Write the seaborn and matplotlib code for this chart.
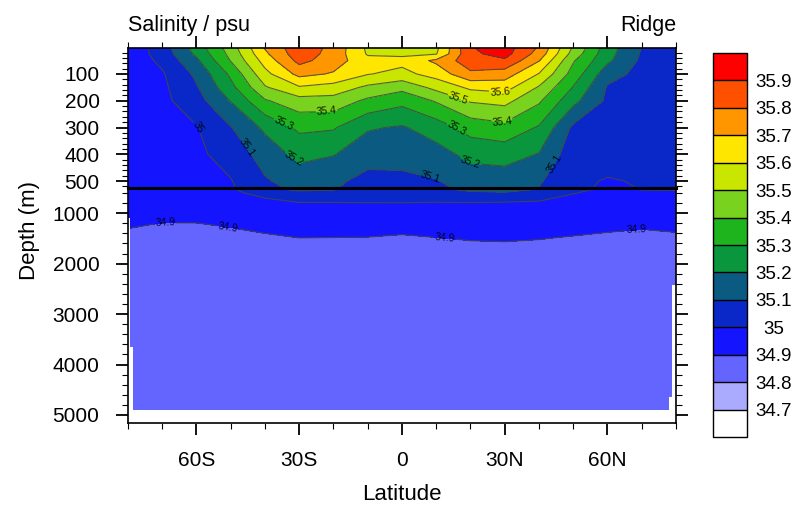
import numpy as np
import matplotlib
matplotlib.use("Agg")
import matplotlib.pyplot as plt
from matplotlib.ticker import FixedLocator, MultipleLocator, FuncFormatter
import seaborn as sns

sns.set_style("ticks")
plt.rcParams["font.family"] = ["Liberation Sans", "DejaVu Sans"]
plt.rcParams.update({"text.color": "black", "axes.labelcolor": "black",
                     "xtick.color": "black", "ytick.color": "black",
                     "axes.edgecolor": "black"})

# ---- section grid: latitude (deg) x depth (m) ----
lats = [-80, -70, -60, -50, -40, -30, -20, -10, 0, 10, 20, 30, 40, 50, 60, 70, 80]
depths = [0, 25, 50, 100, 150, 200, 300, 400, 500, 600, 800, 1000, 1200, 1500, 2000, 5000]

# salinity (psu) along each depth level
s_0 = [34.93, 35.05, 35.25, 35.45, 35.71, 35.87, 35.77, 35.58, 35.56, 35.575, 35.895, 35.95, 35.79, 35.49, 35.25, 35.098, 35.08]
s_25 = [34.935, 35.04, 35.22, 35.43, 35.68, 35.86, 35.76, 35.59, 35.58, 35.595, 35.88, 35.935, 35.76, 35.46, 35.235, 35.09, 35.075]
s_50 = [34.94, 35.02, 35.18, 35.405, 35.64, 35.83, 35.75, 35.63, 35.63, 35.72, 35.86, 35.885, 35.705, 35.41, 35.22, 35.08, 35.07]
s_100 = [34.95, 34.99, 35.12, 35.32, 35.57, 35.73, 35.69, 35.605, 35.57, 35.64, 35.78, 35.75, 35.595, 35.36, 35.14, 35.07, 35.06]
s_150 = [34.955, 34.98, 35.09, 35.27, 35.49, 35.59, 35.56, 35.48, 35.43, 35.53, 35.62, 35.64, 35.49, 35.295, 35.09, 35.06, 35.05]
s_200 = [34.955, 34.975, 35.06, 35.205, 35.39, 35.46, 35.46, 35.38, 35.33, 35.41, 35.51, 35.53, 35.415, 35.23, 35.08, 35.05, 35.04]
s_300 = [34.955, 34.97, 34.995, 35.095, 35.22, 35.32, 35.31, 35.21, 35.19, 35.25, 35.34, 35.37, 35.29, 35.08, 35.07, 35.04, 35.03]
s_400 = [34.95, 34.965, 34.98, 35.04, 35.14, 35.23, 35.205, 35.14, 35.13, 35.16, 35.23, 35.24, 35.195, 35.04, 35.06, 35.03, 35.02]
s_500 = [34.945, 34.96, 34.97, 34.995, 35.09, 35.14, 35.12, 35.07, 35.08, 35.095, 35.14, 35.15, 35.11, 35.03, 34.99, 35.01, 35.01]
s_600 = [34.94, 34.95, 34.96, 34.98, 35.03, 35.07, 35.07, 35.04, 35.05, 35.05, 35.08, 35.09, 35.06, 35.003, 34.975, 34.985, 34.99]
s_800 = [34.93, 34.94, 34.945, 34.96, 34.97, 34.995, 34.995, 34.998, 34.998, 34.995, 34.995, 34.99, 34.985, 34.97, 34.96, 34.955, 34.96]
s_1000 = [34.925, 34.93, 34.93, 34.94, 34.945, 34.955, 34.955, 34.955, 34.955, 34.955, 34.96, 34.96, 34.955, 34.945, 34.94, 34.935, 34.94]
s_1200 = [34.908, 34.899, 34.899, 34.91, 34.92, 34.93, 34.93, 34.93, 34.93, 34.93, 34.935, 34.935, 34.93, 34.925, 34.915, 34.91, 34.915]
s_1500 = [34.885, 34.88, 34.88, 34.875, 34.89, 34.899, 34.898, 34.897, 34.89, 34.898, 34.904, 34.906, 34.902, 34.895, 34.89, 34.885, 34.89]
s_2000 = [34.86, 34.86, 34.86, 34.86, 34.86, 34.86, 34.86, 34.86, 34.86, 34.86, 34.86, 34.86, 34.86, 34.86, 34.86, 34.86, 34.86]
s_5000 = [34.84, 34.84, 34.84, 34.84, 34.84, 34.84, 34.84, 34.84, 34.84, 34.84, 34.84, 34.84, 34.84, 34.84, 34.84, 34.84, 34.84]

salinity = np.array([s_0, s_25, s_50, s_100, s_150, s_200, s_300, s_400, s_500,
                     s_600, s_800, s_1000, s_1200, s_1500, s_2000, s_5000])

# sea floor (step profile) along the section
floor_lat = [-80, -79.4, -78.5, 77.9, 78.7, 80]
floor_depth = [1100, 3650, 4900, 4640, 2420, 2420]

# contour intervals and colours
fill_levels = [34.6, 34.7, 34.8, 34.9, 35.0, 35.1, 35.2, 35.3, 35.4, 35.5, 35.6, 35.7, 35.8, 35.9, 36.0]
fill_colors = ["#FFFFFF", "#AAAAFF", "#6464FF", "#1414FF", "#0A28C8", "#0A5A82",
               "#0A963C", "#1EB41E", "#78D21E", "#C8E600", "#FFE600", "#FF9600",
               "#FF5000", "#FF0000"]
line_levels = [34.9, 35.0, 35.1, 35.2, 35.3, 35.4, 35.5, 35.6, 35.7, 35.8, 35.9]
bar_ticks = [34.7, 34.8, 34.9, 35.0, 35.1, 35.2, 35.3, 35.4, 35.5, 35.6, 35.7, 35.8, 35.9]

lat_ticks = [-60, -30, 0, 30, 60]
lat_names = ["60S", "30S", "0", "30N", "60N"]

# where the line labels sit (lat, depth)
top_label_at = [(-58, 283), (-43.4, 358), (-34.4, 283), (-21.9, 257), (-31.2, 410),
                (16.3, 197), (28.6, 178), (15.7, 309), (29.2, 287), (19.5, 440),
                (8.7, 470), (43.1, 425)]
deep_label_at = [(-69.1, 1234), (-50.7, 1253), (12.5, 1471), (68.5, 1352)]

fig = plt.figure(figsize=(8.02, 5.07), dpi=100)
ax_top = fig.add_axes([128 / 802, 1 - 188 / 507, 548 / 802, 140 / 507])
ax_bot = fig.add_axes([128 / 802, 1 - 423 / 507, 548 / 802, 235 / 507])
cax = fig.add_axes([713 / 802, 1 - 437 / 507, 34 / 802, 384 / 507])

line_color = "#454545"
fmt = lambda v: f"{v:g}"

panels = [(ax_top, (526, 3), top_label_at), (ax_bot, (5160, 500), deep_label_at)]
for ax, ylim, label_at in panels:
    cf = ax.contourf(lats, depths, salinity, levels=fill_levels, colors=fill_colors)
    cs = ax.contour(lats, depths, salinity, levels=line_levels,
                    colors=line_color, linewidths=0.8, alpha=0.85)
    ax.set_xlim(-80, 80)
    ax.set_ylim(*ylim)
    ax.clabel(cs, fmt=fmt, fontsize=7.5, colors="black", inline=True,
              inline_spacing=1, manual=label_at)

# sea floor masked in white
ax_bot.fill_between(floor_lat, floor_depth, 6000, step="post", color="white",
                    linewidth=0, zorder=3)

tick_kw = dict(direction="out", colors="black", labelsize=15, pad=12)
for ax in (ax_top, ax_bot):
    for sp in ax.spines.values():
        sp.set_linewidth(1.2)
        sp.set_color("black")
        sp.set_zorder(5)
    ax.xaxis.set_major_locator(FixedLocator(lat_ticks))
    ax.xaxis.set_minor_locator(MultipleLocator(10))
    ax.xaxis.set_major_formatter(FuncFormatter(lambda v, p: lat_names[lat_ticks.index(int(round(v)))]
                                               if int(round(v)) in lat_ticks else ""))
    ax.tick_params(axis="both", which="major", length=8.5, width=1.3, **tick_kw)
    ax.tick_params(axis="both", which="minor", length=4.5, width=0.8, direction="out",
                   colors="black")
    ax.tick_params(axis="y", left=True, right=True, labelleft=True, labelright=False,
                   which="both")

ax_top.tick_params(axis="x", which="both", top=True, bottom=False,
                   labeltop=False, labelbottom=False)
ax_bot.tick_params(axis="x", which="both", top=False, bottom=True,
                   labeltop=False, labelbottom=True)

ax_top.yaxis.set_major_locator(FixedLocator([100, 200, 300, 400, 500]))
ax_top.yaxis.set_minor_locator(MultipleLocator(20))
ax_bot.yaxis.set_major_locator(FixedLocator([1000, 2000, 3000, 4000, 5000]))
ax_bot.yaxis.set_minor_locator(MultipleLocator(200))

# thick divider between the two depth ranges
ax_top.spines["bottom"].set_linewidth(2.2)
ax_bot.spines["top"].set_linewidth(2.2)

ax_top.annotate("Salinity / psu", xy=(0, 1), xycoords="axes fraction",
                xytext=(0, 12), textcoords="offset points",
                ha="left", va="baseline", fontsize=15.5, color="black")
ax_top.annotate("Ridge", xy=(1, 1), xycoords="axes fraction",
                xytext=(0, 12), textcoords="offset points",
                ha="right", va="baseline", fontsize=15.5, color="black")

fig.text(30 / 802, 1 - 230 / 507, "Depth (m)", rotation=90, ha="center",
         va="center", fontsize=16, color="black")
fig.text(402 / 802, 1 - 494 / 507, "Latitude", ha="center", va="center",
         fontsize=16, color="black")

cb = fig.colorbar(cf, cax=cax, ticks=bar_ticks, drawedges=True)
cb.outline.set_linewidth(1.0)
cb.outline.set_edgecolor("black")
cb.dividers.set_color("black")
cb.dividers.set_linewidth(1.0)
cax.yaxis.set_major_formatter(FuncFormatter(lambda v, p: fmt(round(v, 2))))
cax.tick_params(axis="y", length=0, labelsize=13.5, pad=19, colors="black")
cax.minorticks_off()
for t in cax.get_yticklabels():
    t.set_ha("center")

fig.savefig("out.png", dpi=100)
